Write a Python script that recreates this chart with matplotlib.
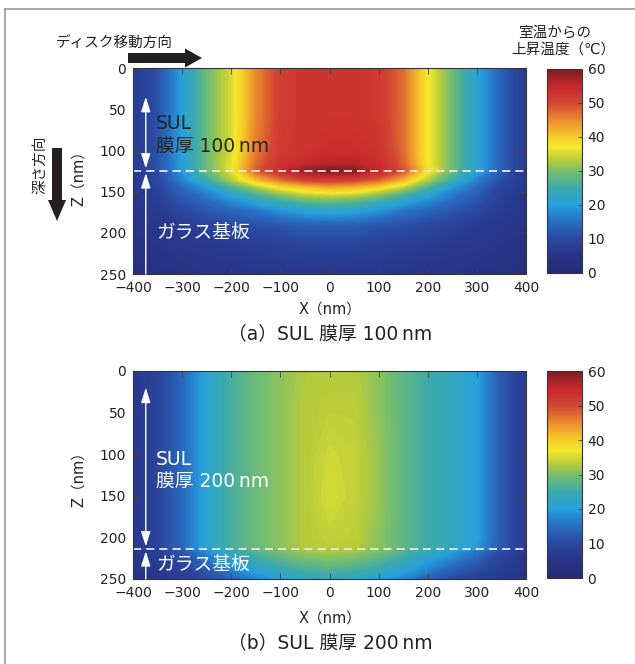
import numpy as np
import matplotlib
matplotlib.use("Agg")
import matplotlib.pyplot as plt
from matplotlib.colors import LinearSegmentedColormap, Normalize
from matplotlib.cm import ScalarMappable

plt.rcParams['font.family'] = ['DejaVu Sans', 'Noto Sans CJK JP']

# ---- data (temperature rise, degC) ----
x_nm = [-400, -350, -300, -250, -200, -150, -100, -50, 0, 50, 100, 150, 200, 250, 300, 350, 400]

# (a) SUL 100 nm : interface at z = 125 nm
z_a = [0, 60, 100, 116, 124, 126, 135, 145, 158, 172, 190, 215, 250]
temp_a = [
    [7, 11, 20, 29, 35, 45, 51, 53, 53, 53, 52, 47, 37, 29, 21, 13, 7],
    [7, 11, 20, 29, 35, 45, 51, 53, 53, 53, 52, 47, 37, 29, 21, 13, 7],
    [7, 11, 20, 29, 35, 46, 52, 53, 54, 54, 53, 47, 37, 29, 21, 13, 7],
    [7, 11, 20, 29, 36, 47, 53, 55, 56, 56, 54, 48, 37, 29, 21, 13, 7],
    [7, 11, 20, 29, 36, 48, 54, 58, 60, 59, 55, 49, 38, 29, 21, 13, 7],
    [6, 10, 19, 28, 35, 47, 53, 57, 59, 58, 54, 48, 37, 28, 20, 12, 6],
    [6, 10, 17, 25, 33, 41, 47, 51, 52, 51, 48, 42, 33, 25, 17, 11, 6],
    [6, 9, 14, 19, 26, 32, 37, 40, 42, 41, 38, 33, 26, 19, 14, 9, 6],
    [5, 8, 12, 15, 19, 23, 27, 30, 31, 30, 27, 23, 19, 15, 12, 8, 5],
    [5, 7, 10, 12, 14, 16, 19, 21, 22, 21, 19, 16, 14, 12, 10, 7, 5],
    [5, 6, 7, 9, 10, 11, 12, 13, 13, 13, 12, 11, 10, 9, 7, 6, 5],
    [4, 5, 6, 6, 7, 8, 8, 9, 9, 9, 8, 8, 7, 6, 6, 5, 4],
    [3, 4, 4, 5, 5, 5, 6, 6, 6, 6, 6, 5, 5, 5, 4, 4, 3],
]
sul_a = 125

# (b) SUL 200 nm : interface at z = 214 nm
z_b = [0, 40, 100, 150, 200, 213, 216, 235, 250]
temp_b = [
    [6, 9, 14, 21, 26, 29, 31, 32.5, 33, 33, 31, 28, 25, 23, 20, 12, 7],
    [6, 9, 14, 21, 26, 29, 31, 33, 33.5, 33.5, 31, 28, 25, 23, 20, 12, 7],
    [6, 9, 14, 21, 26, 29, 31, 33, 34.5, 34, 31.5, 28, 25, 23, 20, 12, 7],
    [6, 9, 14, 21, 26, 29, 31, 33, 35, 34, 31.5, 28, 25, 23, 20, 12, 7],
    [6, 9, 14, 21, 26, 29, 31, 33, 34, 33.5, 31, 28, 25, 23, 20, 12, 7],
    [6, 9, 14, 21, 26, 29, 31, 33, 33.5, 33, 31, 28, 25, 23, 19, 12, 7],
    [6, 8, 12, 18, 23, 27, 30, 32, 32.5, 32, 30, 27, 23, 20, 16, 10, 6],
    [5, 7, 9, 13, 18, 22, 25, 27, 28, 27, 25, 22, 18, 14, 11, 8, 5],
    [4, 5, 7, 10, 13, 17, 20, 22, 23, 22, 20, 17, 13, 10, 8, 6, 4],
]
sul_b = 214

x_ticks = [-400, -300, -200, -100, 0, 100, 200, 300, 400]
z_ticks = [0, 50, 100, 150, 200, 250]
cb_ticks = [0, 10, 20, 30, 40, 50, 60]

# printed-looking jet colormap
jet_nodes = [
    (0, '#262a73'), (5, '#283487'), (10, '#2a48a0'), (15, '#286ec3'),
    (20, '#26a0dc'), (25, '#3caaaa'), (30, '#78be6e'), (33, '#b4cb3c'),
    (37, '#f5e82d'), (40, '#f5cd28'), (45, '#eb8c2d'), (50, '#d24632'),
    (55, '#c8282d'), (60, '#7d1e23'),
]
cmap = LinearSegmentedColormap.from_list('printjet', [(v / 60, c) for v, c in jet_nodes])
norm = Normalize(0, 60)

W, H = 635, 664
fig = plt.figure(figsize=(W / 100, H / 100), dpi=100)


def box(l, t, r, b):
    return [l / W, 1 - b / H, (r - l) / W, (b - t) / H]


def panel(ax, cax, z, temp, sul, top_arrow, dark_sul_text, thick):
    cs = ax.contourf(x_nm, z, np.array(temp, float), levels=np.linspace(0, 60, 181),
                     cmap=cmap, norm=norm, extend='both')
    cs.set_edgecolor('face')
    cs.set_linewidth(0.3)
    ax.set_xlim(-400, 400)
    ax.set_ylim(250, 0)
    ax.set_xticks(x_ticks)
    ax.set_yticks(z_ticks)
    ax.tick_params(direction='in', top=True, right=True, length=4, width=0.6,
                   color='#444444', labelsize=10, labelcolor='#222222')
    ax.tick_params(axis='x', pad=5)
    ax.tick_params(axis='y', pad=5)
    for s in ax.spines.values():
        s.set_color('#333333')
        s.set_linewidth(0.8)

    # layer boundary and arrows
    ax.axhline(sul, color='#e6e6e6', lw=1.3, dashes=(4.5, 2.8))
    ax.annotate('', xy=(-374, sul - 3), xytext=(-374, top_arrow),
                arrowprops=dict(arrowstyle='<|-|>,head_length=0.9,head_width=0.28',
                                color='white', lw=1.0, shrinkA=0, shrinkB=0,
                                mutation_scale=10))
    ax.annotate('', xy=(-374, sul + 2.5), xytext=(-374, 250),
                arrowprops=dict(arrowstyle='-|>,head_length=0.9,head_width=0.28',
                                color='white', lw=1.0, shrinkA=0, shrinkB=0,
                                mutation_scale=10))
    tc = '#262626' if dark_sul_text else 'white'
    ax.text(-353, sul - 58 if dark_sul_text else sul - 108, 'SUL', color=tc,
            fontsize=13.5, va='center', ha='left')
    ax.text(-353, sul - 30 if dark_sul_text else sul - 82, '膜厚 ' + thick + '\u2009nm',
            color=tc, fontsize=13.5, va='center', ha='left')
    ax.text(-353, 200 if dark_sul_text else 232, 'ガラス基板', color='white',
            fontsize=13.5, va='center', ha='left')

    cb = fig.colorbar(ScalarMappable(norm=norm, cmap=cmap), cax=cax, ticks=cb_ticks)
    cb.ax.tick_params(direction='in', length=3, width=0.6, color='#444444',
                      labelsize=10, labelcolor='#222222', pad=4)
    cb.outline.set_edgecolor('#333333')
    cb.outline.set_linewidth(0.8)


ax_a = fig.add_axes(box(133, 68, 526, 274))
cax_a = fig.add_axes(box(547, 69, 582, 273))
ax_b = fig.add_axes(box(133, 371, 526, 579))
cax_b = fig.add_axes(box(547, 371, 582, 578))

panel(ax_a, cax_a, z_a, temp_a, sul_a, 35, True, '100')
panel(ax_b, cax_b, z_b, temp_b, sul_b, 20, False, '200')

# labels in figure pixel space
ov = fig.add_axes([0, 0, 1, 1])
ov.set_xlim(0, W)
ov.set_ylim(H, 0)
ov.axis('off')

txt = '#222222'
ov.text(330, 309, 'X（nm）', fontsize=10.5, ha='center', va='center', color=txt)
ov.text(330, 618, 'X（nm）', fontsize=10.5, ha='center', va='center', color=txt)
ov.text(330, 334, '（a）SUL 膜厚 100\u2009nm', fontsize=13.5, ha='center', va='center', color=txt)
ov.text(330, 643, '（b）SUL 膜厚 200\u2009nm', fontsize=13.5, ha='center', va='center', color=txt)
ov.text(78, 175, 'Z（nm）', fontsize=10.5, ha='center', va='center', rotation=90, color=txt)
ov.text(78, 476, 'Z（nm）', fontsize=10.5, ha='center', va='center', rotation=90, color=txt)

ov.text(555, 32, '室温からの', fontsize=10.5, ha='center', va='center', color=txt)
ov.text(563, 49, '上昇温度（℃）', fontsize=10.5, ha='center', va='center', color=txt)

ov.text(114, 42, 'ディスク移動方向', fontsize=10.5, ha='center', va='center', color=txt)
ov.arrow(128, 58, 74, 0, width=10, head_width=19, head_length=17,
         length_includes_head=True, color='#231f20', lw=0)
ov.text(40, 165, '深さ方向', fontsize=10.5, ha='center', va='center', rotation=90, color=txt)
ov.arrow(57, 148, 0, 73, width=10, head_width=18, head_length=21,
         length_includes_head=True, color='#231f20', lw=0)

# outer frame (left and top edges)
ov.plot([5, 5], [9, H], color='#9a9a9a', lw=1.2)
ov.plot([5, W], [9, 9], color='#9a9a9a', lw=1.2)

fig.savefig('out.png', dpi=100)
